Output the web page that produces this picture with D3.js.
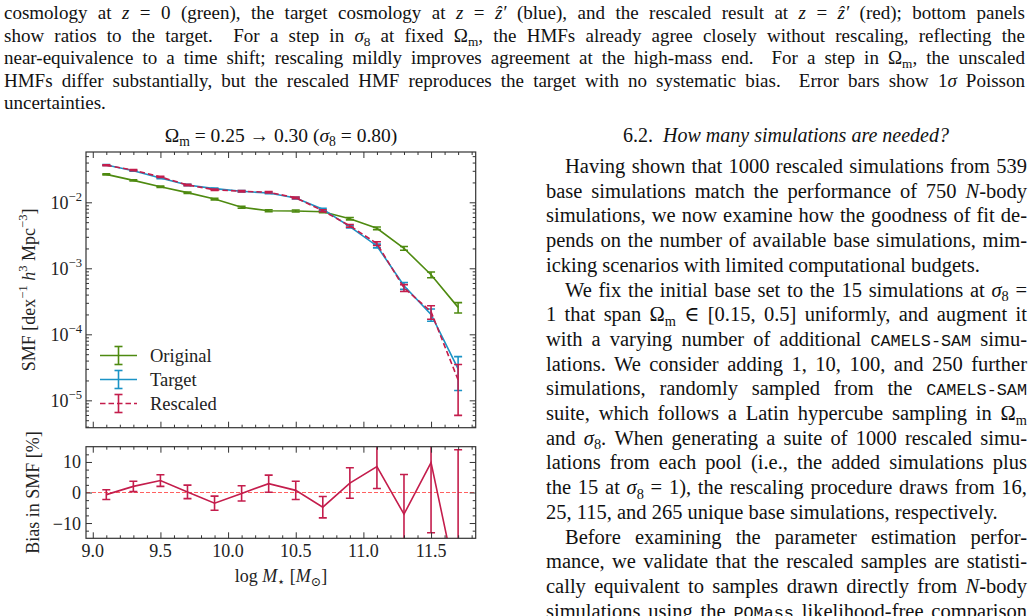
<!DOCTYPE html>
<html>
<head>
<meta charset="utf-8">
<script src="https://cdn.jsdelivr.net/npm/d3@7"></script>
<style>
  html, body { margin: 0; padding: 0; background: #fff; }
  svg { display: block; }
  text { white-space: pre; }
</style>
</head>
<body>
<svg id="page"></svg>
<script>
const width = 1035;
const height = 616;

// stellar mass bins (log M*)
const massBins = [9.1, 9.3, 9.5, 9.7, 9.9, 10.1, 10.3, 10.5, 10.7, 10.9, 11.1, 11.3, 11.5, 11.7];
const smfOriginal = [0.0265, 0.0215, 0.0172, 0.0140, 0.0112, 0.0084, 0.00746, 0.00738, 0.00721, 0.00565, 0.00404, 0.00201, 0.00080, 0.000256];
const smfTarget   = [0.0367, 0.0301, 0.0233, 0.0183, 0.0161, 0.0147, 0.0138, 0.0116, 0.00783, 0.00427, 0.00218, 0.000545, 0.000200, 0.0000300];
const smfRescaled = [0.0364, 0.0307, 0.0242, 0.0183, 0.0155, 0.0147, 0.0142, 0.0117, 0.00745, 0.00440, 0.00237, 0.000506, 0.000220, 0.0000204];
const errOriginalPct = [1.8, 2.0, 2.2, 2.5, 2.8, 3.2, 3.4, 3.4, 3.5, 4.0, 4.7, 6.5, 10, 18];
const errTargetPct   = [1.5, 1.7, 1.9, 2.2, 2.3, 2.4, 2.5, 2.7, 3.3, 4.5, 6.5, 12, 21, 53];
const errRescaledPct = [1.5, 1.7, 1.9, 2.2, 2.3, 2.4, 2.5, 2.7, 3.4, 4.5, 6.5, 12, 23, 71];
const biasPct    = [-0.7, 2.0, 3.9, 0.2, -3.5, -0.3, 2.9, 0.7, -4.8, 3.1, 8.5, -7.1, 9.8, -32];
const biasErrPct = [1.6, 1.7, 1.9, 2.2, 2.3, 2.5, 2.8, 3.0, 3.5, 5.0, 7.2, 13, 23, 46];

const xTicks = [9.0, 9.5, 10.0, 10.5, 11.0, 11.5];
const yTicksMain = [1e-2, 1e-3, 1e-4, 1e-5];
const yTickExp = ['−2', '−3', '−4', '−5'];
const yTicksBias = [-10, 0, 10];

const seriesNames = ['Original', 'Target', 'Rescaled'];
const colors = {Original: '#4e8a10', Target: '#1b93c6', Rescaled: '#c41d4c'};

const serif = "'Liberation Serif', 'DejaVu Serif', serif";
const mono = "'Liberation Mono', 'DejaVu Sans Mono', monospace";
const frameColor = '#333';

const svg = d3.select('#page').attr('width', width).attr('height', height);
svg.append('rect').attr('width', width).attr('height', height).attr('fill', '#fff');

// rich text: parts are strings or [string, style]; style: i, sub, sup, tt
function addRich(textSel, parts, fs) {
  let shift = 0;
  parts.forEach(p => {
    const [str, st] = typeof p === 'string' ? [p, ''] : p;
    const target = st.includes('sub') ? fs * 0.22 : st.includes('sup') ? -fs * 0.42 : 0;
    const t = textSel.append('tspan').text(str).attr('dy', target - shift);
    shift = target;
    if (st === 'i' || st === 'isub') t.attr('font-style', 'italic');
    if (st.includes('sub') || st.includes('sup')) t.attr('font-size', fs * 0.7);
    if (st === 'tt') t.attr('font-family', mono).attr('font-size', fs * 0.82);
  });
  return textSel;
}

function textLine(x, y, parts, fs, opts = {}) {
  const t = svg.append('text')
    .attr('x', x).attr('y', y)
    .attr('font-family', serif).attr('font-size', fs)
    .attr('fill', '#111');
  if (opts.anchor) t.attr('text-anchor', opts.anchor);
  addRich(t, parts, fs);
  if (opts.justifyTo) {
    const natural = t.node().getComputedTextLength();
    const spaces = (t.text().match(/ /g) || []).length;
    if (spaces > 0) t.style('word-spacing', ((opts.justifyTo - x - natural) / spaces) + 'px');
  }
  return t;
}

// ---- caption (top, full width) ----
const capLines = [
  {j: 1, p: ['cosmology at ', ['z', 'i'], ' = 0 (green), the target cosmology at ', ['z', 'i'], ' = ', ['ẑ′', 'i'], ' (blue), and the rescaled result at ', ['z', 'i'], ' = ', ['ẑ′', 'i'], ' (red); bottom panels']},
  {j: 1, p: ['show ratios to the target.  For a step in ', ['σ', 'i'], ['8', 'sub'], ' at fixed Ω', ['m', 'sub'], ', the HMFs already agree closely without rescaling, reflecting the']},
  {j: 1, p: ['near-equivalence to a time shift; rescaling mildly improves agreement at the high-mass end.  For a step in Ω', ['m', 'sub'], ', the unscaled']},
  {j: 1, p: ['HMFs differ substantially, but the rescaled HMF reproduces the target with no systematic bias.  Error bars show 1', ['σ', 'i'], ' Poisson']},
  {j: 0, p: ['uncertainties.']}
];
capLines.forEach((l, i) => {
  textLine(4, 19 + i * 22.6, l.p, 19, l.j ? {justifyTo: 1025} : {});
});

// ---- right column ----
textLine(786, 142, ['6.2.  ', ['How many simulations are needed?', 'i']], 20, {anchor: 'middle'});

const bodyLines = [
  {ind: 1, j: 1, p: ['Having shown that 1000 rescaled simulations from 539']},
  {j: 1, p: ['base simulations match the performance of 750 ', ['N', 'i'], '-body']},
  {j: 1, p: ['simulations, we now examine how the goodness of fit de-']},
  {j: 1, p: ['pends on the number of available base simulations, mim-']},
  {j: 0, p: ['icking scenarios with limited computational budgets.']},
  {ind: 1, j: 1, p: ['We fix the initial base set to the 15 simulations at ', ['σ', 'i'], ['8', 'sub'], ' =']},
  {j: 1, p: ['1 that span Ω', ['m', 'sub'], ' ∈ [0.15, 0.5] uniformly, and augment it']},
  {j: 1, p: ['with a varying number of additional ', ['CAMELS-SAM', 'tt'], ' simu-']},
  {j: 1, p: ['lations. We consider adding 1, 10, 100, and 250 further']},
  {j: 1, p: ['simulations, randomly sampled from the ', ['CAMELS-SAM', 'tt']]},
  {j: 1, p: ['suite, which follows a Latin hypercube sampling in Ω', ['m', 'sub']]},
  {j: 1, p: ['and ', ['σ', 'i'], ['8', 'sub'], '. When generating a suite of 1000 rescaled simu-']},
  {j: 1, p: ['lations from each pool (i.e., the added simulations plus']},
  {j: 1, p: ['the 15 at ', ['σ', 'i'], ['8', 'sub'], ' = 1), the rescaling procedure draws from 16,']},
  {j: 0, p: ['25, 115, and 265 unique base simulations, respectively.']},
  {ind: 1, j: 1, p: ['Before examining the parameter estimation perfor-']},
  {j: 1, p: ['mance, we validate that the rescaled samples are statisti-']},
  {j: 1, p: ['cally equivalent to samples drawn directly from ', ['N', 'i'], '-body']},
  {j: 1, p: ['simulations using the ', ['POMass', 'tt'], ' likelihood-free comparison']}
];
bodyLines.forEach((l, i) => {
  const x0 = l.ind ? 565 : 546;
  textLine(x0, 173 + i * 24.7, l.p, 20.5, l.j ? {justifyTo: 1027} : {});
});

// ---- chart ----
const left = 86, right = 475.7;
const mainTop = 152, mainBottom = 427.7;
const biasTop = 446.7, biasBottom = 538.3;

const x = d3.scaleLinear().domain([8.95, 11.83]).range([left, right]);
const y = d3.scaleLog().domain([3.85e-6, 0.0578]).range([mainBottom, mainTop]);
const yb = d3.scaleLinear().domain([-15, 15]).range([biasBottom, biasTop]);

const xMinor = d3.range(91, 119).map(d => d / 10).filter(d => !xTicks.some(t => Math.abs(t - d) < 1e-6));
const yMinorMain = [];
[-6, -5, -4, -3, -2].forEach(e => { for (let k = 2; k <= 9; k++) yMinorMain.push(k * Math.pow(10, e)); });
const yMinorMainIn = yMinorMain.filter(v => v > y.domain()[0] && v < y.domain()[1]);
const yMinorBias = [-12.5, -7.5, -5, -2.5, 2.5, 5, 7.5, 12.5];

function tickAxis(axisFn, scale, values, size, transform) {
  const g = svg.append('g').attr('transform', transform);
  g.call(axisFn(scale).tickValues(values).tickSize(-size).tickSizeOuter(0).tickFormat(''));
  g.select('.domain').remove();
  g.selectAll('line').attr('stroke', frameColor).attr('stroke-width', 1);
  return g;
}

function panelTicks(yScale, top, bottom, yMajor, yMinor) {
  tickAxis(d3.axisBottom, x, xTicks, 6, `translate(0,${bottom})`);
  tickAxis(d3.axisBottom, x, xMinor, 3, `translate(0,${bottom})`);
  tickAxis(d3.axisTop, x, xTicks, 6, `translate(0,${top})`);
  tickAxis(d3.axisTop, x, xMinor, 3, `translate(0,${top})`);
  tickAxis(d3.axisLeft, yScale, yMajor, 6, `translate(${left},0)`);
  tickAxis(d3.axisLeft, yScale, yMinor, 3, `translate(${left},0)`);
  tickAxis(d3.axisRight, yScale, yMajor, 6, `translate(${right},0)`);
  tickAxis(d3.axisRight, yScale, yMinor, 3, `translate(${right},0)`);
  svg.append('rect').attr('x', left).attr('y', top)
    .attr('width', right - left).attr('height', bottom - top)
    .attr('fill', 'none').attr('stroke', frameColor).attr('stroke-width', 1.2);
}

const defs = svg.append('defs');
defs.append('clipPath').attr('id', 'clipMain').append('rect')
  .attr('x', left).attr('y', mainTop).attr('width', right - left).attr('height', mainBottom - mainTop);
defs.append('clipPath').attr('id', 'clipBias').append('rect')
  .attr('x', left).attr('y', biasTop).attr('width', right - left).attr('height', biasBottom - biasTop);

// main panel series
const mainG = svg.append('g').attr('clip-path', 'url(#clipMain)');
const seriesData = {
  Original: {v: smfOriginal, e: errOriginalPct},
  Target: {v: smfTarget, e: errTargetPct},
  Rescaled: {v: smfRescaled, e: errRescaledPct}
};
const capHalf = 4;

seriesNames.forEach(name => {
  const s = seriesData[name];
  const pts = massBins.map((m, i) => ({m, v: s.v[i], e: s.e[i]}));
  const col = colors[name];
  const g = mainG.append('g');
  g.append('path').datum(pts)
    .attr('fill', 'none').attr('stroke', col).attr('stroke-width', 1.6)
    .attr('stroke-dasharray', name === 'Rescaled' ? '5.5,3' : null)
    .attr('d', d3.line().x(d => x(d.m)).y(d => y(d.v)));
  const eb = g.selectAll('.eb').data(pts).enter().append('g').attr('stroke', col).attr('stroke-width', 1.6);
  eb.append('line').attr('x1', d => x(d.m)).attr('x2', d => x(d.m))
    .attr('y1', d => y(d.v * (1 - d.e / 100))).attr('y2', d => y(d.v * (1 + d.e / 100)));
  eb.append('line').attr('x1', d => x(d.m) - capHalf).attr('x2', d => x(d.m) + capHalf)
    .attr('y1', d => y(d.v * (1 + d.e / 100))).attr('y2', d => y(d.v * (1 + d.e / 100)));
  eb.append('line').attr('x1', d => x(d.m) - capHalf).attr('x2', d => x(d.m) + capHalf)
    .attr('y1', d => y(d.v * (1 - d.e / 100))).attr('y2', d => y(d.v * (1 - d.e / 100)));
});

panelTicks(y, mainTop, mainBottom, yTicksMain, yMinorMainIn);

// main y tick labels
yTicksMain.forEach((v, i) => {
  const t = svg.append('text').attr('x', 82).attr('y', y(v) + 6.5)
    .attr('text-anchor', 'end').attr('font-family', serif).attr('font-size', 18).attr('fill', '#222');
  addRich(t, ['10', [yTickExp[i], 'sup']], 18);
});

// legend
seriesNames.forEach((name, i) => {
  const ly = 355.5 + i * 24;
  const col = colors[name];
  const g = svg.append('g').attr('stroke', col).attr('stroke-width', 1.6);
  g.append('line').attr('x1', 100).attr('x2', 137).attr('y1', ly).attr('y2', ly)
    .attr('stroke-dasharray', name === 'Rescaled' ? '5.5,3' : null);
  g.append('line').attr('x1', 118.5).attr('x2', 118.5).attr('y1', ly - 9).attr('y2', ly + 9);
  g.append('line').attr('x1', 118.5 - capHalf).attr('x2', 118.5 + capHalf).attr('y1', ly - 9).attr('y2', ly - 9);
  g.append('line').attr('x1', 118.5 - capHalf).attr('x2', 118.5 + capHalf).attr('y1', ly + 9).attr('y2', ly + 9);
  svg.append('text').attr('x', 150).attr('y', ly + 6.5)
    .attr('font-family', serif).attr('font-size', 18.5).attr('fill', '#222').text(name);
});

// title
textLine(281, 142, ['Ω', ['m', 'sub'], ' = 0.25 → 0.30 (', ['σ', 'i'], ['8', 'sub'], ' = 0.80)'], 19.5, {anchor: 'middle'});

// main y label
const yl = svg.append('text').attr('transform', `translate(34.5,${(mainTop + mainBottom) / 2}) rotate(-90)`)
  .attr('text-anchor', 'middle').attr('font-family', serif).attr('font-size', 18).attr('fill', '#222');
addRich(yl, ['SMF [dex', ['−1', 'sup'], ' ', ['h', 'i'], ['3', 'sup'], ' Mpc', ['−3', 'sup'], ']'], 18);

// bias panel
const biasG = svg.append('g').attr('clip-path', 'url(#clipBias)');
biasG.append('line').attr('x1', left).attr('x2', right).attr('y1', yb(0)).attr('y2', yb(0))
  .attr('stroke', '#ff5050').attr('stroke-width', 1.1).attr('stroke-dasharray', '4,2').attr('opacity', 0.9);
const biasPts = massBins.map((m, i) => ({m, v: biasPct[i], e: biasErrPct[i]}));
const bcol = colors.Rescaled;
biasG.append('path').datum(biasPts)
  .attr('fill', 'none').attr('stroke', bcol).attr('stroke-width', 1.6)
  .attr('d', d3.line().x(d => x(d.m)).y(d => yb(d.v)));
const beb = biasG.selectAll('.beb').data(biasPts).enter().append('g').attr('stroke', bcol).attr('stroke-width', 1.6);
beb.append('line').attr('x1', d => x(d.m)).attr('x2', d => x(d.m))
  .attr('y1', d => yb(d.v - d.e)).attr('y2', d => yb(d.v + d.e));
beb.append('line').attr('x1', d => x(d.m) - capHalf).attr('x2', d => x(d.m) + capHalf)
  .attr('y1', d => yb(d.v + d.e)).attr('y2', d => yb(d.v + d.e));
beb.append('line').attr('x1', d => x(d.m) - capHalf).attr('x2', d => x(d.m) + capHalf)
  .attr('y1', d => yb(d.v - d.e)).attr('y2', d => yb(d.v - d.e));

panelTicks(yb, biasTop, biasBottom, yTicksBias, yMinorBias);

yTicksBias.forEach(v => {
  svg.append('text').attr('x', 81).attr('y', yb(v) + 6.5)
    .attr('text-anchor', 'end').attr('font-family', serif).attr('font-size', 18).attr('fill', '#222')
    .text(v < 0 ? '−' + Math.abs(v) : String(v));
});
xTicks.forEach(v => {
  svg.append('text').attr('x', x(v)).attr('y', 557)
    .attr('text-anchor', 'middle').attr('font-family', serif).attr('font-size', 18).attr('fill', '#222')
    .text(v.toFixed(1));
});

const bl = svg.append('text').attr('transform', `translate(39,${(biasTop + biasBottom) / 2}) rotate(-90)`)
  .attr('text-anchor', 'middle').attr('font-family', serif).attr('font-size', 18).attr('fill', '#222');
addRich(bl, ['Bias in SMF [%]'], 18);

const xl = svg.append('text').attr('x', 281).attr('y', 582)
  .attr('text-anchor', 'middle').attr('font-family', serif).attr('font-size', 18).attr('fill', '#222');
addRich(xl, ['log ', ['M', 'i'], ['⋆', 'sub'], ' [', ['M', 'i'], ['⊙', 'sub'], ']'], 18);
</script>
</body>
</html>
